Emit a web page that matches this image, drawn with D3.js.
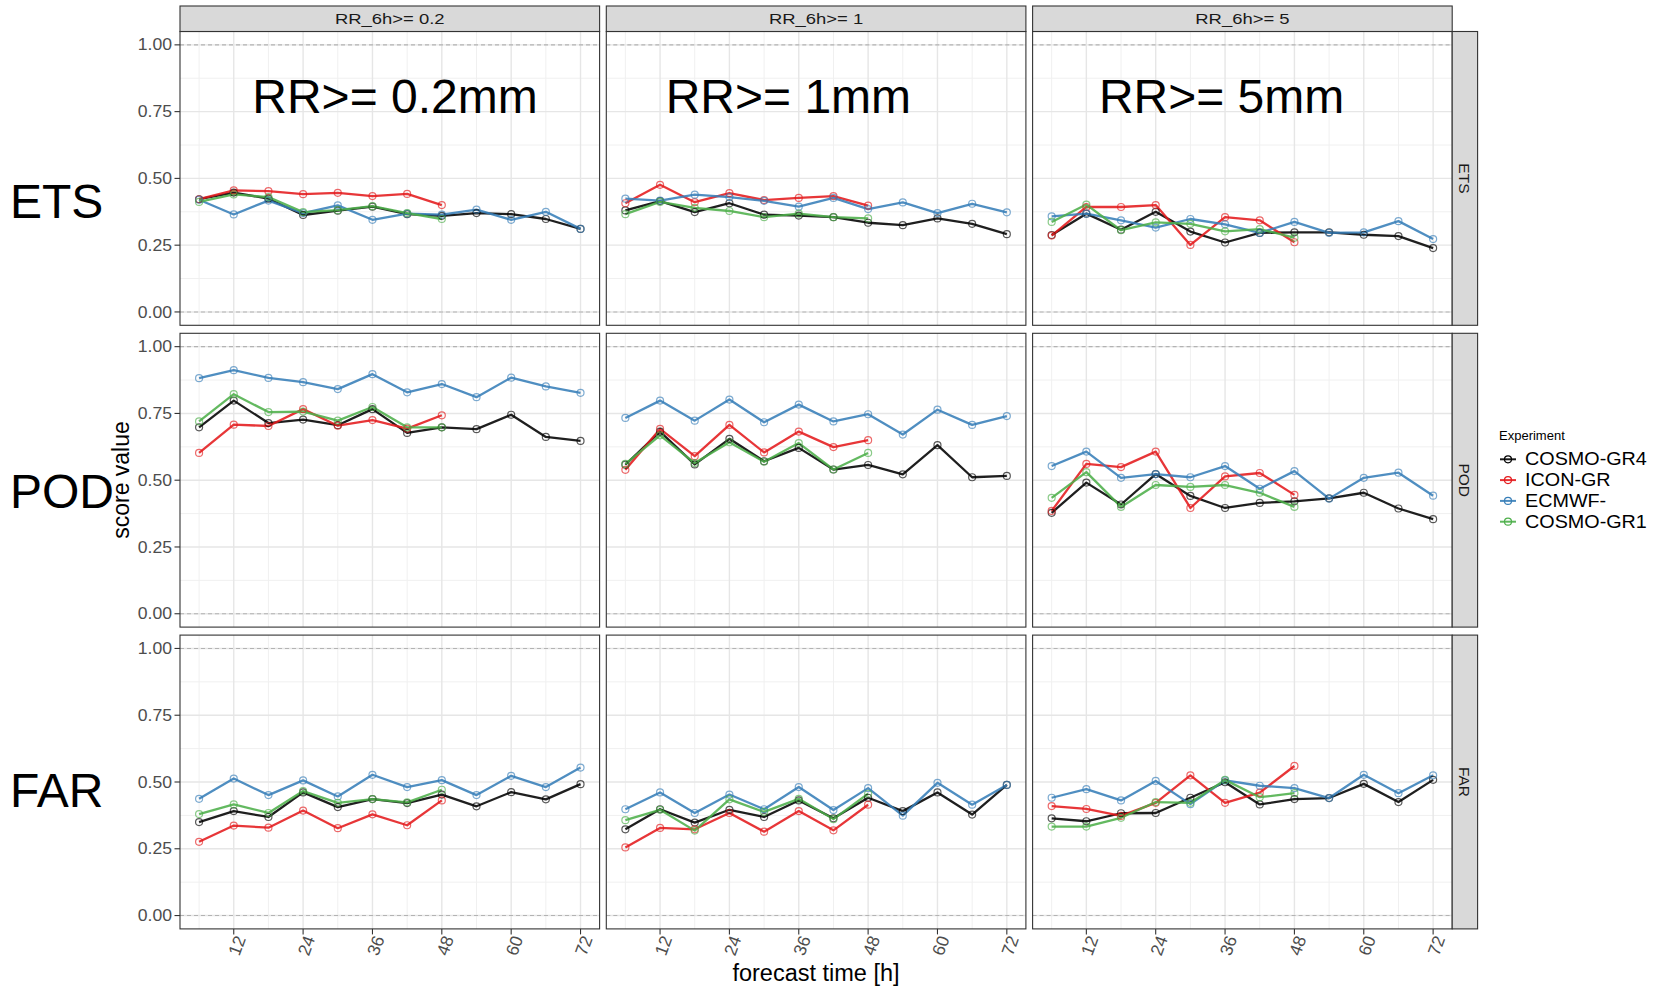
<!DOCTYPE html>
<html>
<head>
<meta charset="utf-8">
<script src="https://cdn.jsdelivr.net/npm/d3@7"></script>
<style>
  body { margin: 0; background: #fff; }
  svg { display: block; font-family: "Liberation Sans", Arial, sans-serif; }
</style>
</head>
<body>
<div id="chart"></div>
<script>
// ---- data ----
const leadTimes = [6, 12, 18, 24, 30, 36, 42, 48, 54, 60, 66, 72];
const experiments = ["COSMO-GR4", "ICON-GR", "ECMWF-", "COSMO-GR1"];
const expColors = ["#000000", "#E41A1C", "#377EB8", "#4DAF4A"];
const thresholds = ["RR_6h>= 0.2", "RR_6h>= 1", "RR_6h>= 5"];
const thresholdNotes = ["RR>= 0.2mm", "RR>= 1mm", "RR>= 5mm"];
const scores = ["ETS", "POD", "FAR"];
const yTicks = [0, 0.25, 0.5, 0.75, 1];
const xTicks = [12, 24, 36, 48, 60, 72];

// each array: one row per threshold (0.2, 1, 5), values by lead time
const etsGR4 = [
  [0.422, 0.447, 0.424, 0.363, 0.379, 0.394, 0.366, 0.360, 0.370, 0.366, 0.348, 0.311],
  [0.380, 0.415, 0.374, 0.407, 0.364, 0.361, 0.355, 0.334, 0.325, 0.350, 0.330, 0.291],
  [0.288, 0.368, 0.308, 0.375, 0.301, 0.260, 0.296, 0.298, 0.298, 0.289, 0.284, 0.239]
];
const etsICON = [
  [0.422, 0.455, 0.452, 0.441, 0.446, 0.434, 0.442, 0.400],
  [0.407, 0.476, 0.411, 0.445, 0.419, 0.427, 0.434, 0.398],
  [0.286, 0.393, 0.393, 0.400, 0.251, 0.355, 0.343, 0.261]
];
const etsECMWF = [
  [0.420, 0.365, 0.417, 0.370, 0.399, 0.345, 0.368, 0.364, 0.383, 0.345, 0.375, 0.311],
  [0.424, 0.417, 0.439, 0.430, 0.416, 0.394, 0.427, 0.385, 0.410, 0.370, 0.405, 0.373],
  [0.358, 0.368, 0.343, 0.316, 0.348, 0.328, 0.296, 0.337, 0.296, 0.298, 0.340, 0.273]
];
const etsGR1 = [
  [0.412, 0.440, 0.430, 0.374, 0.381, 0.396, 0.370, 0.348],
  [0.366, 0.412, 0.390, 0.378, 0.355, 0.368, 0.355, 0.350],
  [0.337, 0.402, 0.306, 0.335, 0.330, 0.302, 0.310, 0.278]
];

const podGR4 = [
  [0.698, 0.798, 0.714, 0.727, 0.706, 0.766, 0.677, 0.698, 0.691, 0.745, 0.662, 0.647],
  [0.558, 0.682, 0.559, 0.655, 0.571, 0.621, 0.540, 0.557, 0.522, 0.631, 0.511, 0.516],
  [0.378, 0.491, 0.409, 0.523, 0.441, 0.396, 0.415, 0.421, 0.432, 0.453, 0.394, 0.354]
];
const podICON = [
  [0.602, 0.708, 0.703, 0.766, 0.704, 0.725, 0.693, 0.743],
  [0.539, 0.692, 0.590, 0.707, 0.604, 0.682, 0.624, 0.650],
  [0.385, 0.561, 0.549, 0.607, 0.396, 0.514, 0.527, 0.445]
];
const podECMWF = [
  [0.882, 0.912, 0.883, 0.867, 0.841, 0.897, 0.829, 0.860, 0.811, 0.884, 0.851, 0.827],
  [0.733, 0.798, 0.723, 0.802, 0.717, 0.783, 0.720, 0.747, 0.671, 0.764, 0.707, 0.740],
  [0.553, 0.607, 0.509, 0.523, 0.511, 0.553, 0.468, 0.534, 0.431, 0.509, 0.528, 0.442]
];
const podGR1 = [
  [0.720, 0.822, 0.755, 0.757, 0.723, 0.774, 0.698, 0.698],
  [0.561, 0.668, 0.564, 0.642, 0.569, 0.639, 0.540, 0.602],
  [0.434, 0.530, 0.400, 0.482, 0.475, 0.482, 0.453, 0.400]
];

const farGR4 = [
  [0.350, 0.391, 0.369, 0.461, 0.406, 0.436, 0.421, 0.453, 0.409, 0.462, 0.435, 0.492],
  [0.323, 0.398, 0.348, 0.396, 0.369, 0.431, 0.364, 0.441, 0.391, 0.461, 0.378, 0.489],
  [0.364, 0.353, 0.383, 0.384, 0.441, 0.499, 0.416, 0.436, 0.440, 0.493, 0.425, 0.508]
];
const farICON = [
  [0.276, 0.337, 0.329, 0.393, 0.327, 0.379, 0.338, 0.431],
  [0.255, 0.328, 0.323, 0.384, 0.314, 0.391, 0.319, 0.415],
  [0.410, 0.399, 0.373, 0.422, 0.525, 0.422, 0.460, 0.560]
];
const farECMWF = [
  [0.437, 0.513, 0.451, 0.506, 0.446, 0.527, 0.481, 0.507, 0.451, 0.523, 0.481, 0.554],
  [0.398, 0.461, 0.384, 0.453, 0.398, 0.481, 0.395, 0.477, 0.374, 0.497, 0.415, 0.489],
  [0.441, 0.473, 0.431, 0.504, 0.417, 0.506, 0.486, 0.477, 0.440, 0.527, 0.458, 0.525]
];
const farGR1 = [
  [0.380, 0.416, 0.384, 0.466, 0.422, 0.436, 0.424, 0.471],
  [0.357, 0.396, 0.318, 0.435, 0.388, 0.437, 0.361, 0.456],
  [0.333, 0.333, 0.366, 0.425, 0.422, 0.508, 0.443, 0.458]
];

// score -> experiment -> threshold -> values
const scoreTable = [
  [etsGR4, etsICON, etsECMWF, etsGR1],
  [podGR4, podICON, podECMWF, podGR1],
  [farGR4, farICON, farECMWF, farGR1]
];

// ---- layout ----
const width = 1656, height = 988;
const plotLeft = 180, plotTop = 31.5;
const colGap = 6.7, rowGap = 8;
const panelW = 419.6, panelH = 293.8;
const stripH = 25.5, stripW = 25.4;
const stretch = 1.17; // the ggplot part of the picture is a bit wider than tall

const svg = d3.select("#chart").append("svg")
  .attr("width", width).attr("height", height);

const x = d3.scaleLinear().domain([2.7, 75.3]).range([0, panelW]);
const y = d3.scaleLinear().domain([-0.05, 1.05]).range([panelH, 0]);

const line = d3.line().x(d => x(d[0])).y(d => y(d[1]));

const minorX = [6, 18, 30, 42, 54, 66];
const minorY = [0.125, 0.375, 0.625, 0.875];

// text squeezed/stretched horizontally around its anchor
function wideText(parent, tx, ty, str, size, anchor, fill, sx) {
  return parent.append("g")
    .attr("transform", `translate(${tx},${ty}) scale(${sx},1)`)
    .append("text").attr("dy", "0.35em").attr("text-anchor", anchor)
    .attr("font-size", size).attr("fill", fill).text(str);
}

scores.forEach((score, r) => {
  thresholds.forEach((thr, c) => {
    const px = plotLeft + c * (panelW + colGap);
    const py = plotTop + r * (panelH + rowGap);
    const g = svg.append("g").attr("transform", `translate(${px},${py})`);

    g.append("rect").attr("width", panelW).attr("height", panelH).attr("fill", "#fff");

    // grid
    g.selectAll(".minx").data(minorX).join("line")
      .attr("x1", d => x(d)).attr("x2", d => x(d)).attr("y1", 0).attr("y2", panelH)
      .attr("stroke", "#f0f0f0").attr("stroke-width", 1);
    g.selectAll(".miny").data(minorY).join("line")
      .attr("y1", d => y(d)).attr("y2", d => y(d)).attr("x1", 0).attr("x2", panelW)
      .attr("stroke", "#f0f0f0").attr("stroke-width", 1);
    g.selectAll(".majx").data(xTicks).join("line")
      .attr("x1", d => x(d)).attr("x2", d => x(d)).attr("y1", 0).attr("y2", panelH)
      .attr("stroke", "#e6e6e6").attr("stroke-width", 1.4);
    g.selectAll(".majy").data(yTicks).join("line")
      .attr("y1", d => y(d)).attr("y2", d => y(d)).attr("x1", 0).attr("x2", panelW)
      .attr("stroke", "#e6e6e6").attr("stroke-width", 1.4);

    // dashed reference lines at 0 and 1
    g.selectAll(".ref").data([0, 1]).join("line")
      .attr("y1", d => y(d)).attr("y2", d => y(d)).attr("x1", 0).attr("x2", panelW)
      .attr("stroke", "#b3b3b3").attr("stroke-width", 1.1).attr("stroke-dasharray", "4,3");

    // lines then points
    const series = experiments.map((e, k) => ({
      color: expColors[k],
      pts: scoreTable[r][k][c].map((v, i) => [leadTimes[i], v])
    }));
    g.selectAll(".series").data(series).join("path")
      .attr("d", d => line(d.pts))
      .attr("fill", "none").attr("stroke", d => d.color)
      .attr("stroke-width", 2.3).attr("stroke-opacity", 0.88)
      .attr("stroke-linejoin", "round");
    series.forEach(s => {
      g.selectAll(null).data(s.pts).join("circle")
        .attr("cx", d => x(d[0])).attr("cy", d => y(d[1])).attr("r", 3.5)
        .attr("fill", "none").attr("stroke", s.color)
        .attr("stroke-width", 1.2).attr("stroke-opacity", 0.65);
    });

    // border
    g.append("rect").attr("width", panelW).attr("height", panelH)
      .attr("fill", "none").attr("stroke", "#333").attr("stroke-width", 1.1);

    // top strips
    if (r === 0) {
      const s = g.append("g").attr("transform", `translate(0,${-stripH})`);
      s.append("rect").attr("width", panelW).attr("height", stripH)
        .attr("fill", "#d9d9d9").attr("stroke", "#333").attr("stroke-width", 1.1);
      wideText(s, panelW / 2, stripH / 2, thr, 15.5, "middle", "#1a1a1a", 1.19);
      // big threshold annotation
      const noteX = [39.9, 34.2, 35.4][c];
      g.append("text").attr("x", x(noteX)).attr("y", y(0.745))
        .attr("text-anchor", "middle").attr("font-size", 48).attr("fill", "#000")
        .text(thresholdNotes[c]);
    }

    // right strips
    if (c === 2) {
      const s = g.append("g").attr("transform", `translate(${panelW},0)`);
      s.append("rect").attr("width", stripW).attr("height", panelH)
        .attr("fill", "#d9d9d9").attr("stroke", "#333").attr("stroke-width", 1.1);
      s.append("text")
        .attr("transform", `translate(${stripW / 2},${panelH / 2}) rotate(90)`)
        .attr("dy", "0.35em").attr("text-anchor", "middle")
        .attr("font-size", 15.5).attr("fill", "#1a1a1a").text(score);
    }

    // y axis
    if (c === 0) {
      const ay = g.append("g");
      ay.selectAll("line").data(yTicks).join("line")
        .attr("x1", -5.5).attr("x2", 0).attr("y1", d => y(d)).attr("y2", d => y(d))
        .attr("stroke", "#333").attr("stroke-width", 1.1);
      yTicks.forEach(t => wideText(ay, -8, y(t), d3.format(".2f")(t), 16, "end", "#4d4d4d", 1.1));
    }

    // x axis
    if (r === 2) {
      const ax = g.append("g").attr("transform", `translate(0,${panelH})`);
      ax.selectAll("line").data(xTicks).join("line")
        .attr("x1", d => x(d)).attr("x2", d => x(d)).attr("y1", 0).attr("y2", 5.5)
        .attr("stroke", "#333").attr("stroke-width", 1.1);
      ax.selectAll("text").data(xTicks).join("text")
        .attr("transform", d => `translate(${x(d) + 6.5},${7.5}) rotate(-70)`)
        .attr("dy", "0.35em").attr("text-anchor", "end")
        .attr("font-size", 17.5).attr("fill", "#4d4d4d").text(d => d);
    }
  });
});

// axis titles
svg.append("text").attr("x", 816).attr("y", 981).attr("text-anchor", "middle")
  .attr("font-size", 23.5).attr("fill", "#000").text("forecast time [h]");
svg.append("text").attr("transform", "translate(121,480) rotate(-90)")
  .attr("dy", "0.35em").attr("text-anchor", "middle")
  .attr("font-size", 23).attr("fill", "#000").text("score value");

// big row labels
const rowLabelY = [218, 508, 807];
scores.forEach((s, i) => {
  svg.append("text").attr("x", 10).attr("y", rowLabelY[i])
    .attr("font-size", 48).attr("fill", "#000").text(s);
});

// legend
const lg = svg.append("g").attr("transform", "translate(1499,0)");
wideText(lg, 0, 435, "Experiment", 13, "start", "#000", 1);
experiments.forEach((e, k) => {
  const ly = 459.3 + k * 20.8;
  lg.append("line").attr("x1", 1).attr("x2", 17).attr("y1", ly).attr("y2", ly)
    .attr("stroke", expColors[k]).attr("stroke-width", 2).attr("stroke-opacity", 0.9);
  lg.append("circle").attr("cx", 9).attr("cy", ly).attr("r", 3.5)
    .attr("fill", "none").attr("stroke", expColors[k]).attr("stroke-width", 1.2);
  wideText(lg, 26, ly, e, 17.5, "start", "#000", 1.13);
});
</script>
</body>
</html>
